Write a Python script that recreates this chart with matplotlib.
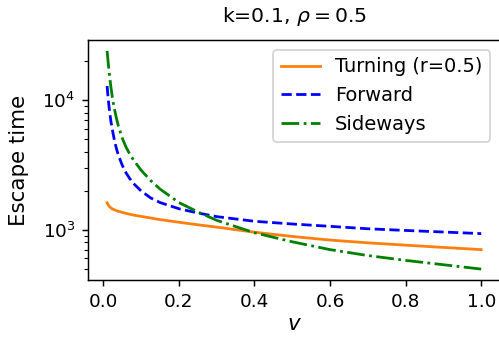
import matplotlib
matplotlib.use("Agg")
import matplotlib.pyplot as plt

v = [0.01, 0.0125, 0.015, 0.0175, 0.02, 0.025, 0.03, 0.035, 0.04, 0.05, 0.06,
     0.07, 0.08, 0.1, 0.125, 0.15, 0.2, 0.25, 0.3, 0.4, 0.5, 0.6, 0.7, 0.8,
     0.9, 1.0]
turning = [1611, 1560, 1525, 1495, 1470, 1440, 1420, 1400, 1385, 1360, 1335,
           1315, 1295, 1265, 1230, 1195, 1140, 1090, 1045, 955, 885, 830, 790,
           758, 728, 700]
forward = [12900, 10600, 9000, 7800, 6900, 5700, 4800, 4200, 3750, 3150, 2750,
           2480, 2270, 1990, 1760, 1620, 1450, 1345, 1260, 1160, 1105, 1060,
           1015, 985, 958, 931]
sideways = [24100, 20000, 17000, 14600, 12700, 10000, 8400, 7200, 6300, 5100,
            4350, 3830, 3450, 2880, 2400, 2060, 1620, 1370, 1180, 945, 805, 700,
            630, 578, 535, 495]

DPI = 133
fig = plt.figure(figsize=(499 / DPI, 341 / DPI), dpi=DPI)
ax = fig.add_axes([88.4 / 499, 61 / 341, 411.5 / 499, 240 / 341])

ax.plot(v, turning, '-', color='C1', label='Turning (r=0.5)')
ax.plot(v, forward, '--', color='b', label='Forward')
ax.plot(v, sideways, '-.', color='g', label='Sideways')
ax.set_yscale('log')
ax.set_xticks([0.0, 0.2, 0.4, 0.6, 0.8, 1.0])
ax.tick_params(labelsize=10)
ax.set_xlabel('$v$', fontsize=11.6, labelpad=1.5)
ax.set_ylabel('Escape time', fontsize=11.6, labelpad=7)
ax.set_title(r'k=0.1, $\rho=0.5$', fontsize=11, pad=9.5)
ax.legend(loc='upper right', fontsize=10.5)

fig.savefig('out.png', dpi=DPI)
